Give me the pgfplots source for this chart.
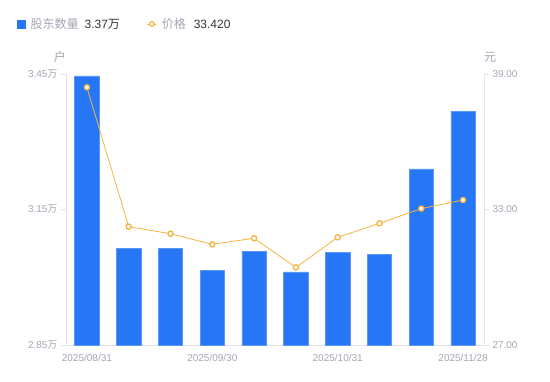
\documentclass[border=0pt]{standalone}
\usepackage{pgfplots}
\pgfplotsset{compat=1.18}
\usepackage{fontspec}
\setmainfont{Liberation Sans}
\newfontfamily\cjk{Noto Sans CJK SC}
\definecolor{barblue}{HTML}{2676F5}
\definecolor{baredge}{HTML}{5A97F7}
\definecolor{lineorange}{HTML}{F6B33F}
\definecolor{axgray}{HTML}{E3E4E8}
\definecolor{txtgray}{HTML}{A3A6B4}
\definecolor{txtdark}{HTML}{333333}
\begin{document}
\begin{tikzpicture}
\useasboundingbox (-66pt,-35.7pt) rectangle (484pt,345.3pt);
\pgfplotsset{
  common/.style={
    scale only axis, width=418pt, height=271.6pt,
    xmin=-0.5, xmax=9.5,
    tick label style={font=\fontsize{10}{12}\selectfont, text=txtgray},
    /pgf/number format/assume math mode=true,
    axis line style={draw=axgray,-},
    major tick length=5pt, tick align=outside,
    every tick/.style={draw=axgray},
    clip=true,
  }
}
\begin{axis}[common,
  ymin=2.85, ymax=3.45,
  ytick={2.85,3.15,3.45},
  yticklabels={2.85{\cjk 万},3.15{\cjk 万},3.45{\cjk 万}},
  axis y line*=left, axis x line*=bottom,
  xtick={0,3,6,9},
  xticklabels={2025/08/31,2025/09/30,2025/10/31,2025/11/28},
  x tick style={draw=none},
]
\addplot[ybar, bar width=24.5pt, fill=barblue, draw=baredge, line width=0.5pt] coordinates {
(0,3.445) (1,3.064) (2,3.064) (3,3.015) (4,3.058) (5,3.012) (6,3.055) (7,3.051) (8,3.240) (9,3.366)};
\end{axis}
\begin{axis}[common,
  ymin=27, ymax=39,
  ytick={27,33,39},
  yticklabels={27.00,33.00,39.00},
  axis y line*=right, axis x line=none,
  legend style={at={(rel axis cs:-0.1244,1.183)}, anchor=west, draw=none, fill=none,
    font=\fontsize{12}{14}\selectfont, text=txtgray,
    /tikz/every even column/.append style={column sep=25pt}},
  legend columns=2, legend cell align=left,
]
\addlegendimage{legend image code/.code={\fill[barblue] (0pt,-4pt) rectangle (8pt,4pt); \path (11pt,0pt);}}
\addlegendentry{{\cjk 股东数量}\hspace{6pt}\textcolor{txtdark}{3.37{\cjk 万}}}
\addplot[lineorange, line width=0.8pt, mark=*, mark size=2.6pt,
  mark options={fill=white, draw=lineorange, line width=1.3pt},
  legend image code/.code={\draw[lineorange, line width=0.9pt] (0pt,0pt) -- (9pt,0pt); \draw[lineorange, fill=white, line width=1.2pt] (4.5pt,0pt) circle (2.3pt); \path (12pt,0pt);}]
 coordinates {
(0,38.40) (1,32.24) (2,31.93) (3,31.46) (4,31.73) (5,30.44) (6,31.77) (7,32.39) (8,33.04) (9,33.42)};
\addlegendentry{{\cjk 价格}\hspace{8pt}\textcolor{txtdark}{33.420}}
\end{axis}
\node[text=txtgray, font=\fontsize{12}{14}\selectfont\cjk] at (-6pt,288.3pt) {户};
\node[text=txtgray, font=\fontsize{12}{14}\selectfont\cjk] at (424pt,288.3pt) {元};
\end{tikzpicture}
\end{document}
